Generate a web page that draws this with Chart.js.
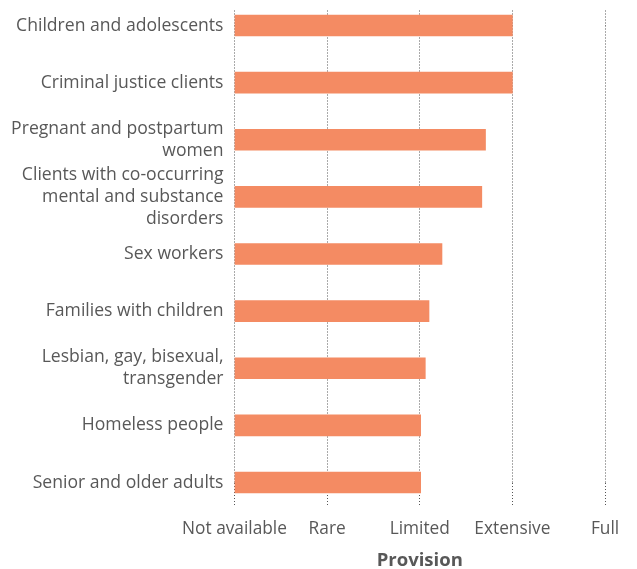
<!DOCTYPE html>
<html>
<head>
<meta charset="utf-8">
<script src="https://cdn.jsdelivr.net/npm/chart.js@4/dist/chart.umd.min.js"></script>
<style>
  html, body { margin: 0; padding: 0; background: #fff; }
  #wrap { width: 637px; height: 569px; position: relative; }
</style>
</head>
<body>
<div id="wrap"><canvas id="provision_chart"></canvas></div>
<script>
"use strict";

// Groups, top to bottom (multi-line labels as arrays)
var groups = [
  'Children and adolescents',
  'Criminal justice clients',
  ['Pregnant and postpartum', 'women'],
  ['Clients with co-occurring', 'mental and substance', 'disorders'],
  'Sex workers',
  'Families with children',
  ['Lesbian, gay, bisexual,', 'transgender'],
  'Homeless people',
  'Senior and older adults'
];

// Provision level, 0 = not available ... 4 = full
var provision = [3.0, 3.0, 2.71, 2.67, 2.24, 2.10, 2.06, 2.01, 2.01];

var provision_levels = ['Not available', 'Rare', 'Limited', 'Extensive', 'Full'];

(function () {
  var font_family, text_color, grid_color, dash;
  font_family = "'Open Sans', 'Liberation Sans', sans-serif";
  text_color = '#585858';
  grid_color = '#555555';
  dash = [1, 2];

  new Chart(document.getElementById('provision_chart').getContext('2d'), {
    type: 'bar',
    data: {
      labels: groups,
      datasets: [{
        data: provision,
        backgroundColor: '#f48b63',
        borderWidth: 0,
        barThickness: 21,
        clip: false
      }]
    },
    options: {
      indexAxis: 'y',
      responsive: true,
      maintainAspectRatio: false,
      animation: false,
      layout: {
        padding: { left: 0, right: 32, top: 10, bottom: 0 }
      },
      plugins: {
        legend: { display: false },
        tooltip: { enabled: false }
      },
      scales: {
        y: {
          type: 'category',
          offset: false,
          grid: { display: false, drawTicks: false },
          border: { display: false },
          ticks: {
            autoSkip: false,
            padding: 11,
            color: text_color,
            font: { family: font_family, size: 17.6, lineHeight: 1.24 }
          },
          afterFit: function (scale) {
            scale.width = 234.5;
          }
        },
        x: {
          type: 'linear',
          position: 'bottom',
          min: 0,
          max: 4,
          border: { display: false, dash: dash },
          grid: {
            color: grid_color,
            tickColor: grid_color,
            tickBorderDash: dash,
            tickLength: 24,
            lineWidth: 1
          },
          ticks: {
            stepSize: 1,
            autoSkip: false,
            maxRotation: 0,
            minRotation: 0,
            padding: 12,
            color: text_color,
            font: { family: font_family, size: 17.3, lineHeight: 1.2 },
            callback: function (value) {
              return provision_levels[value];
            }
          },
          title: {
            display: true,
            text: 'Provision',
            color: text_color,
            padding: 0,
            font: { family: font_family, size: 18.5, weight: 'bold', lineHeight: 0.85 }
          },
          afterFit: function (scale) {
            scale.height = 86.5;
          }
        },
        x_top: {
          type: 'linear',
          position: 'top',
          min: 0,
          max: 4,
          border: { display: false },
          grid: {
            drawOnChartArea: false,
            tickColor: grid_color,
            tickBorderDash: dash,
            tickLength: 15
          },
          ticks: { stepSize: 1, display: false },
          afterFit: function (scale) {
            scale.height = 15.5;
          }
        }
      }
    }
  });
}).call(void 0);
</script>
</body>
</html>
